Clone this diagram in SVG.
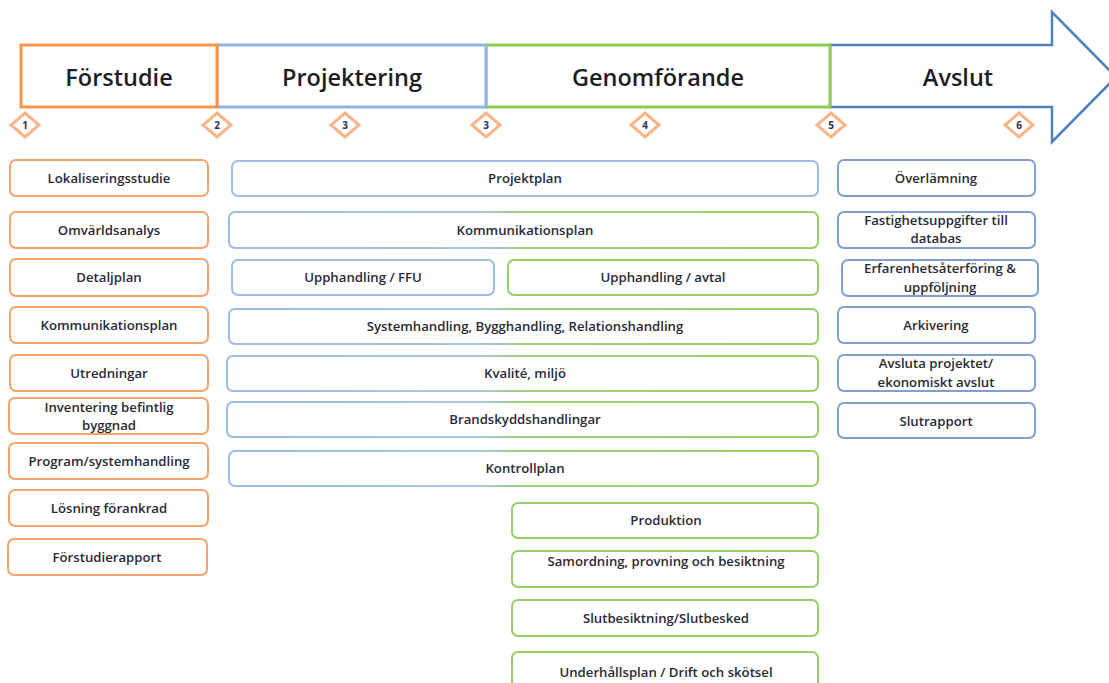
<svg xmlns="http://www.w3.org/2000/svg" width="1109" height="683" viewBox="0 0 1109 683">
<style>
.hd{font-family:"Open Sans","Liberation Sans",sans-serif;font-size:23.5px;font-weight:600;fill:#1e1e26;text-anchor:middle}
.t{font-family:"Open Sans","Liberation Sans",sans-serif;font-size:13.2px;font-weight:600;fill:#2a2a36;text-anchor:middle}
.num{font-family:"Open Sans","Liberation Sans",sans-serif;font-size:10px;font-weight:700;fill:#2e2e4e;text-anchor:middle}
.o{fill:#fff;stroke:#F6A46A;stroke-width:2}
.b{fill:#fff;stroke:#9DBBE5;stroke-width:2}
.bd{fill:#fff;stroke:#7F9FCF;stroke-width:2}
.g{fill:#fff;stroke:#96CF68;stroke-width:2}
.bg{fill:#fff;stroke:url(#bgGrad);stroke-width:2}
.dia{fill:#fff;stroke:#F8B58A;stroke-width:3}
</style>
<defs>
<linearGradient id="bgGrad" x1="0" y1="0" x2="1" y2="0">
<stop offset="0" stop-color="#9DBBE5"/>
<stop offset="0.42" stop-color="#A9C3E6"/>
<stop offset="0.5" stop-color="#9ED07A"/>
<stop offset="1" stop-color="#96CF68"/>
</linearGradient>
</defs>
<rect width="1109" height="683" fill="#fff"/>

<g id="header">
<g id="phase-avslut">
<path d="M830,45 H1052 V12 L1116,77 L1052,142 V107 H830 Z" fill="#fff" stroke="#4F81BD" stroke-width="2.5"/>
<text class="hd" x="958" y="86">Avslut</text>
</g>
<g id="phase-genomforande">
<rect x="486" y="45" width="344" height="62" fill="#fff" stroke="#8CCB50" stroke-width="3"/>
<text class="hd" x="658" y="86">Genomförande</text>
</g>
<g id="phase-projektering">
<rect x="217" y="45" width="269" height="62" fill="#fff" stroke="#8EB4E3" stroke-width="3"/>
<text class="hd" x="352" y="86">Projektering</text>
</g>
<g id="phase-forstudie">
<rect x="21" y="45" width="196" height="62" fill="#fff" stroke="#F79646" stroke-width="3"/>
<text class="hd" x="119" y="86">Förstudie</text>
</g>
</g>

<g id="milestones">
<g id="m1"><path class="dia" d="M25,113 L39,125 L25,137 L11,125 Z"/><text class="num" x="25" y="129">1</text></g>
<g id="m2"><path class="dia" d="M217,113 L231,125 L217,137 L203,125 Z"/><text class="num" x="217" y="129">2</text></g>
<g id="m3a"><path class="dia" d="M345,113 L359,125 L345,137 L331,125 Z"/><text class="num" x="345" y="129">3</text></g>
<g id="m3b"><path class="dia" d="M486,113 L500,125 L486,137 L472,125 Z"/><text class="num" x="486" y="129">3</text></g>
<g id="m4"><path class="dia" d="M645,113 L659,125 L645,137 L631,125 Z"/><text class="num" x="645" y="129">4</text></g>
<g id="m5"><path class="dia" d="M831,113 L845,125 L831,137 L817,125 Z"/><text class="num" x="831" y="129">5</text></g>
<g id="m6"><path class="dia" d="M1019,113 L1033,125 L1019,137 L1005,125 Z"/><text class="num" x="1019" y="129">6</text></g>
</g>

<g id="connectors"></g>

<g id="forstudie-items">
<g id="n-lokal"><rect class="o" x="10" y="160" width="198" height="36" rx="6"/><text class="t" x="109" y="183">Lokaliseringsstudie</text></g>
<g id="n-omvarld"><rect class="o" x="10" y="212" width="198" height="36" rx="6"/><text class="t" x="109" y="235">Omvärldsanalys</text></g>
<g id="n-detalj"><rect class="o" x="10" y="259" width="198" height="37" rx="6"/><text class="t" x="109" y="282">Detaljplan</text></g>
<g id="n-komm1"><rect class="o" x="10" y="307" width="198" height="36" rx="6"/><text class="t" x="109" y="330">Kommunikationsplan</text></g>
<g id="n-utred"><rect class="o" x="10" y="355" width="198" height="36" rx="6"/><text class="t" x="109" y="378">Utredningar</text></g>
<g id="n-invent"><rect class="o" x="9" y="398" width="199" height="36" rx="6"/><text class="t" x="109" y="412">Inventering befintlig</text><text class="t" x="109" y="430">byggnad</text></g>
<g id="n-program"><rect class="o" x="9" y="443" width="199" height="36" rx="6"/><text class="t" x="109" y="466">Program/systemhandling</text></g>
<g id="n-losning"><rect class="o" x="9" y="490" width="199" height="36" rx="6"/><text class="t" x="109" y="513">Lösning förankrad</text></g>
<g id="n-forrapport"><rect class="o" x="8" y="539" width="199" height="36" rx="6"/><text class="t" x="107" y="562">Förstudierapport</text></g>
</g>

<g id="middle-items">
<g id="n-projektplan"><rect class="b" x="232" y="161" width="586" height="35" rx="6"/><text class="t" x="525" y="183">Projektplan</text></g>
<g id="n-komm2"><rect class="bg" x="229" y="212" width="589" height="36" rx="6"/><text class="t" x="525" y="235">Kommunikationsplan</text></g>
<g id="n-ffu"><rect class="b" x="232" y="260" width="262" height="35" rx="6"/><text class="t" x="363" y="282">Upphandling / FFU</text></g>
<g id="n-avtal"><rect class="g" x="508" y="260" width="310" height="35" rx="6"/><text class="t" x="663" y="282">Upphandling / avtal</text></g>
<g id="n-system"><rect class="bg" x="229" y="309" width="589" height="35" rx="6"/><text class="t" x="525" y="331">Systemhandling, Bygghandling, Relationshandling</text></g>
<g id="n-kvalite"><rect class="bg" x="227" y="356" width="591" height="35" rx="6"/><text class="t" x="525" y="378">Kvalité, miljö</text></g>
<g id="n-brand"><rect class="bg" x="227" y="402" width="591" height="35" rx="6"/><text class="t" x="525" y="424">Brandskyddshandlingar</text></g>
<g id="n-kontroll"><rect class="bg" x="229" y="451" width="589" height="35" rx="6"/><text class="t" x="525" y="473">Kontrollplan</text></g>
<g id="n-produktion"><rect class="g" x="512" y="503" width="306" height="35" rx="6"/><text class="t" x="666" y="525">Produktion</text></g>
<g id="n-samordning"><rect class="g" x="512" y="551" width="306" height="36" rx="6"/><text class="t" x="666" y="566">Samordning, provning och besiktning</text></g>
<g id="n-slutbes"><rect class="g" x="512" y="600" width="306" height="36" rx="6"/><text class="t" x="666" y="623">Slutbesiktning/Slutbesked</text></g>
<g id="n-underhall"><rect class="g" x="512" y="652" width="306" height="40" rx="6"/><text class="t" x="666" y="677">Underhållsplan / Drift och skötsel</text></g>
</g>

<g id="avslut-items">
<g id="n-overl"><rect class="bd" x="838" y="160" width="197" height="36" rx="6"/><text class="t" x="936" y="183">Överlämning</text></g>
<g id="n-fastighet"><rect class="bd" x="838" y="212" width="197" height="36" rx="6"/><text class="t" x="936" y="225">Fastighetsuppgifter till</text><text class="t" x="936" y="243">databas</text></g>
<g id="n-erfarenhet"><rect class="bd" x="842" y="260" width="196" height="36" rx="6"/><text class="t" x="940" y="273">Erfarenhetsåterföring &amp;</text><text class="t" x="940" y="292">uppföljning</text></g>
<g id="n-arkiv"><rect class="bd" x="838" y="307" width="197" height="36" rx="6"/><text class="t" x="936" y="330">Arkivering</text></g>
<g id="n-avsluta"><rect class="bd" x="838" y="355" width="197" height="36" rx="6"/><text class="t" x="936" y="368">Avsluta projektet/</text><text class="t" x="936" y="387">ekonomiskt avslut</text></g>
<g id="n-slutrapport"><rect class="bd" x="838" y="403" width="197" height="35" rx="6"/><text class="t" x="936" y="426">Slutrapport</text></g>
</g>
</svg>
